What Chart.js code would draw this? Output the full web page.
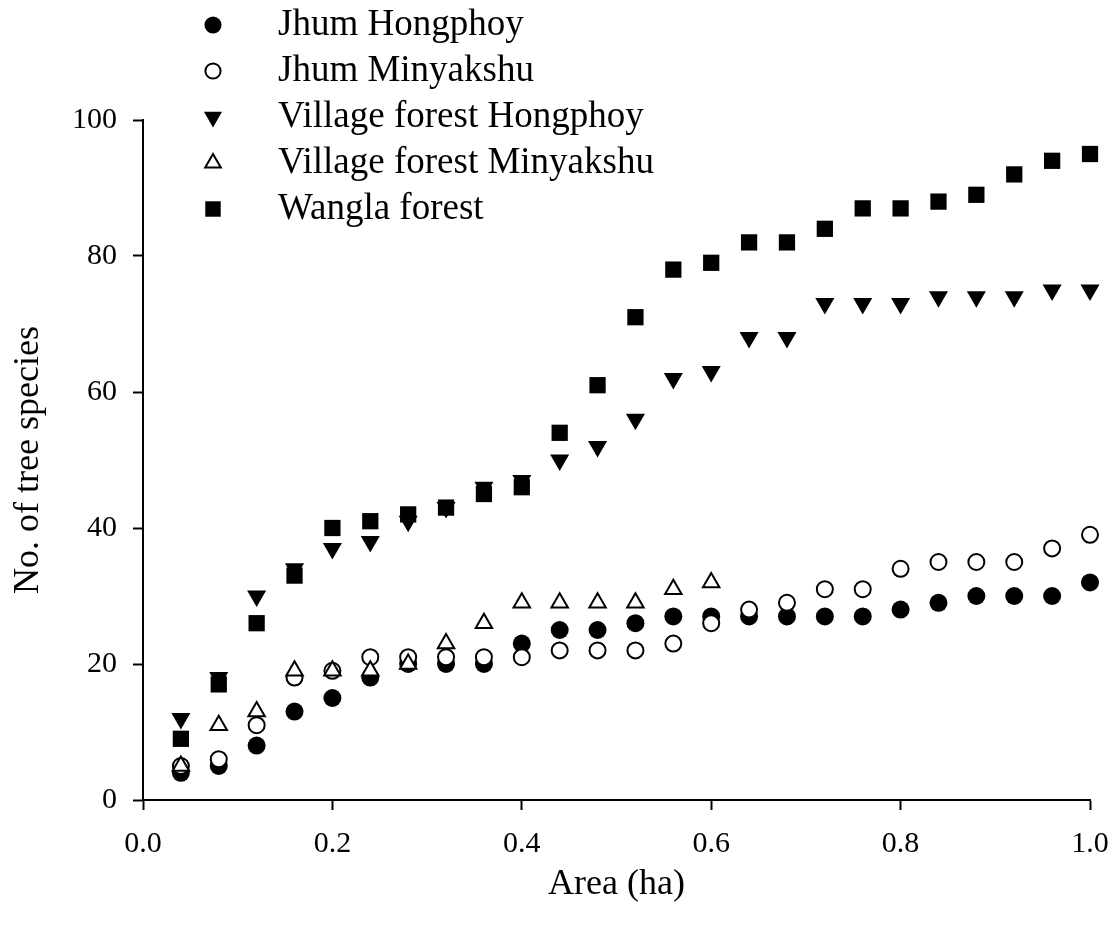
<!DOCTYPE html>
<html>
<head>
<meta charset="utf-8">
<script src="https://cdn.jsdelivr.net/npm/chart.js@4.4.1/dist/chart.umd.min.js"></script>
<style>
  html, body { margin: 0; padding: 0; background: #ffffff; }
  #wrap { width: 1113px; height: 925px; }
</style>
</head>
<body>
<div id="wrap"><canvas id="c" width="1113" height="925"></canvas></div>
<script>
// ---- data ----
const areas = [0.04, 0.08, 0.12, 0.16, 0.20, 0.24, 0.28, 0.32, 0.36, 0.40, 0.44, 0.48, 0.52,
               0.56, 0.60, 0.64, 0.68, 0.72, 0.76, 0.80, 0.84, 0.88, 0.92, 0.96, 1.00];
const jhumHongphoy     = [4, 5, 8, 13, 15, 18, 20, 20, 20, 23, 25, 25, 26, 27, 27, 27, 27, 27, 27, 28, 29, 30, 30, 30, 32];
const jhumMinyakshu    = [5, 6, 11, 18, 19, 21, 21, 21, 21, 21, 22, 22, 22, 23, 26, 28, 29, 31, 31, 34, 35, 35, 35, 37, 39];
const villageHongphoy  = [12, 18, 30, 34, 37, 38, 41, 43, 46, 47, 50, 52, 56, 62, 63, 68, 68, 73, 73, 73, 74, 74, 74, 75, 75];
const villageMinyakshu = [5, 11, 13, 19, 19, 19, 20, 23, 26, 29, 29, 29, 29, 31, 32];
const wanglaForest     = [9, 17, 26, 33, 40, 41, 42, 43, 45, 46, 54, 61, 71, 78, 79, 82, 82, 84, 87, 87, 88, 89, 92, 94, 95];
const seriesNames = ['Jhum Hongphoy', 'Jhum Minyakshu', 'Village forest Hongphoy', 'Village forest Minyakshu', 'Wangla forest'];
const xTickStep = 0.2;
const yTickStep = 20;
const xTitle = 'Area (ha)';
const yTitle = 'No. of tree species';

const FAMILY = "'Liberation Serif', 'Times New Roman', Times, serif";

function pts(values) {
  return values.map((v, i) => ({ x: areas[i], y: v }));
}

// marker styles
const styles = [
  { pointStyle: 'circle',   rotation: 0,   radius: 9,    bg: '#000', bw: 0, order: 5 },
  { pointStyle: 'circle',   rotation: 0,   radius: 8,    bg: '#fff', bw: 2, order: 4 },
  { pointStyle: 'triangle', rotation: 180, radius: 11,   bg: '#000', bw: 0, order: 3 },
  { pointStyle: 'triangle', rotation: 0,   radius: 9.5,  bg: '#fff', bw: 2, order: 2 },
  { pointStyle: 'rect',     rotation: 0,   radius: 11.5, bg: '#000', bw: 0, order: 1 }
];
const seriesValues = [jhumHongphoy, jhumMinyakshu, villageHongphoy, villageMinyakshu, wanglaForest];

const datasets = seriesValues.map((vals, i) => ({
  label: seriesNames[i],
  data: pts(vals),
  pointStyle: styles[i].pointStyle,
  rotation: styles[i].rotation,
  pointRadius: styles[i].radius,
  pointHoverRadius: styles[i].radius,
  backgroundColor: styles[i].bg,
  borderColor: '#000',
  borderWidth: styles[i].bw,
  showLine: false,
  order: styles[i].order,
  clip: false
}));

// legend marker images drawn with Chart.js' own point renderer
function markerImage(s) {
  const size = 28;
  const cv = document.createElement('canvas');
  cv.width = size; cv.height = size;
  const ctx = cv.getContext('2d');
  ctx.fillStyle = s.bg;
  ctx.strokeStyle = '#000';
  ctx.lineWidth = s.bw;
  if (Chart.helpers && Chart.helpers.drawPoint) {
    Chart.helpers.drawPoint(ctx, { pointStyle: s.pointStyle, rotation: s.rotation, radius: s.radius * 0.95, borderWidth: s.bw }, size / 2, size / 2);
  }
  return cv;
}
const legendImages = styles.map(markerImage);

const LEG_MARKER_X = 213;
const LEG_FIRST_Y = 25;
const LEG_FONT = 37;
const LEG_PAD = 9;
const LEG_BOX = 93;

const legendPlacer = {
  id: 'legendPlacer',
  afterLayout(chart) {
    const lg = chart.legend;
    if (!lg) return;
    const w = lg.width, h = lg.height;
    lg.left = LEG_MARKER_X - LEG_BOX / 2 - LEG_PAD;
    lg.top = LEG_FIRST_Y - LEG_FONT / 2 - LEG_PAD;
    lg.right = lg.left + w;
    lg.bottom = lg.top + h;
  }
};
const whiteBg = {
  id: 'whiteBg',
  beforeDraw(chart) {
    const ctx = chart.ctx;
    ctx.save();
    ctx.fillStyle = '#fff';
    ctx.fillRect(0, 0, chart.width, chart.height);
    ctx.restore();
  }
};

const axisFont = { family: FAMILY, size: 30 };
const titleFont = { family: FAMILY, size: 36, lineHeight: 1 };

new Chart(document.getElementById('c'), {
  type: 'scatter',
  data: { datasets },
  options: {
    responsive: false,
    devicePixelRatio: 1,
    animation: false,
    events: [],
    layout: { padding: { left: 0, right: 23, top: 120, bottom: 0 } },
    plugins: {
      tooltip: { enabled: false },
      legend: {
        display: true,
        position: 'chartArea',
        align: 'start',
        reverse: true,
        labels: {
          usePointStyle: true,
          pointStyleWidth: LEG_BOX,
          boxHeight: LEG_FONT,
          padding: LEG_PAD,
          color: '#000',
          font: { family: FAMILY, size: LEG_FONT },
          generateLabels(chart) {
            const items = Chart.defaults.plugins.legend.labels.generateLabels(chart);
            items.forEach(it => { it.pointStyle = legendImages[it.datasetIndex]; it.rotation = 0; });
            return items;
          }
        }
      }
    },
    scales: {
      x: {
        type: 'linear',
        min: 0, max: 1,
        afterFit(s) { s.height = 125; s.paddingLeft = 0; s.paddingRight = 0; },
        ticks: {
          stepSize: xTickStep,
          callback: v => Number(v).toFixed(1),
          font: axisFont, color: '#000', padding: 16,
          maxRotation: 0, autoSkip: false
        },
        grid: { drawOnChartArea: false, drawTicks: true, tickLength: 10, tickColor: '#000', tickWidth: 2 },
        border: { display: true, color: '#000', width: 2 },
        title: { display: true, text: xTitle, font: titleFont, color: '#000', padding: { top: 0, bottom: 22 } }
      },
      y: {
        type: 'linear',
        min: 0, max: 100,
        afterFit(s) { s.width = 143; s.paddingTop = 0; s.paddingBottom = 0; },
        ticks: { stepSize: yTickStep, font: axisFont, color: '#000', padding: 16 },
        grid: { drawOnChartArea: false, drawTicks: true, tickLength: 10, tickColor: '#000', tickWidth: 2 },
        border: { display: true, color: '#000', width: 2 },
        title: { display: true, text: yTitle, font: titleFont, color: '#000', padding: { top: 11, bottom: 0 } }
      }
    }
  },
  plugins: [whiteBg, legendPlacer]
});
</script>
</body>
</html>
